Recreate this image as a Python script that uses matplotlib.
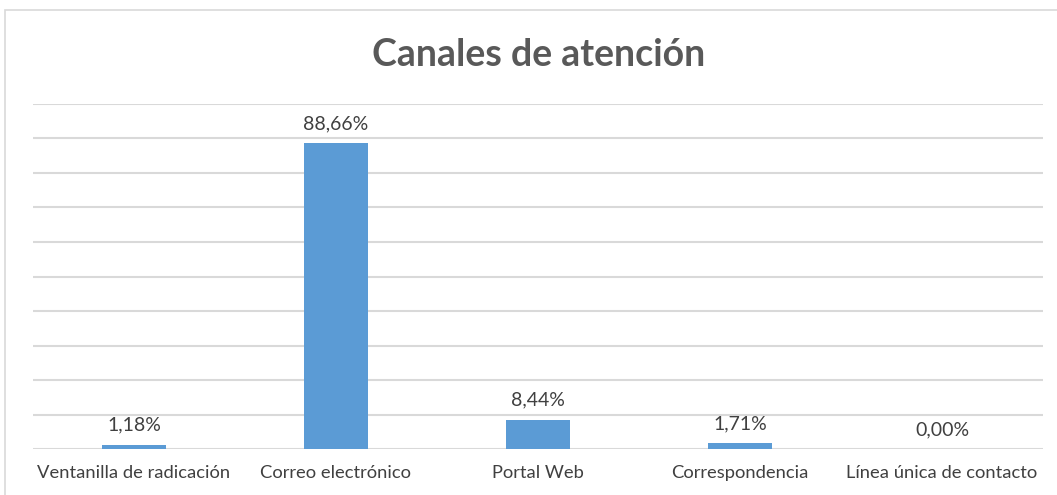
import matplotlib
matplotlib.use("Agg")
import matplotlib.pyplot as plt
from matplotlib.patches import Rectangle

categories = ["Ventanilla de radicación", "Correo electrónico", "Portal Web",
              "Correspondencia", "Línea única de contacto"]
values = [1.18, 88.66, 8.44, 1.71, 0.00]
labels = ["1,18%", "88,66%", "8,44%", "1,71%", "0,00%"]

W, H = 1057, 495
fig = plt.figure(figsize=(W/100, H/100), dpi=100)
fig.patch.set_facecolor("white")

# outer chart frame
fig.patches.append(Rectangle((5/W, -0.1), 1.2, 1 - 10/H + 0.1, transform=fig.transFigure,
                             fill=False, edgecolor="#d9d9d9", linewidth=1.2))

ax = fig.add_axes([33/W, 1 - 449/H, (1043-33)/W, (449-104)/H])
x = list(range(len(categories)))
bars = ax.bar(x, values, width=0.32, color="#5b9bd5", zorder=3)
ax.set_xlim(-0.5, len(categories) - 0.5)
ax.set_ylim(0, 100)
ax.set_yticks(range(0, 101, 10))
ax.yaxis.grid(True, color="#d9d9d9", linewidth=1.5, zorder=0)
ax.tick_params(axis="y", left=False, labelleft=False)
ax.tick_params(axis="x", bottom=False, pad=8)
ax.set_xticks(x)
ax.set_xticklabels(categories, fontsize=13.2, color="#404040", family="Lato")
for s in ax.spines.values():
    s.set_visible(False)

for xi, v, lab in zip(x, values, labels):
    ax.annotate(lab, (xi, v), xytext=(0, 8), textcoords="offset points",
                ha="center", va="bottom", fontsize=14, color="#404040", family="Lato")

fig.text(539/W, 1 - 55/H, "Canales de atención", ha="center", va="center",
         fontsize=27, fontweight="bold", color="#595959", family="Lato")

fig.savefig("out.png", dpi=100)
